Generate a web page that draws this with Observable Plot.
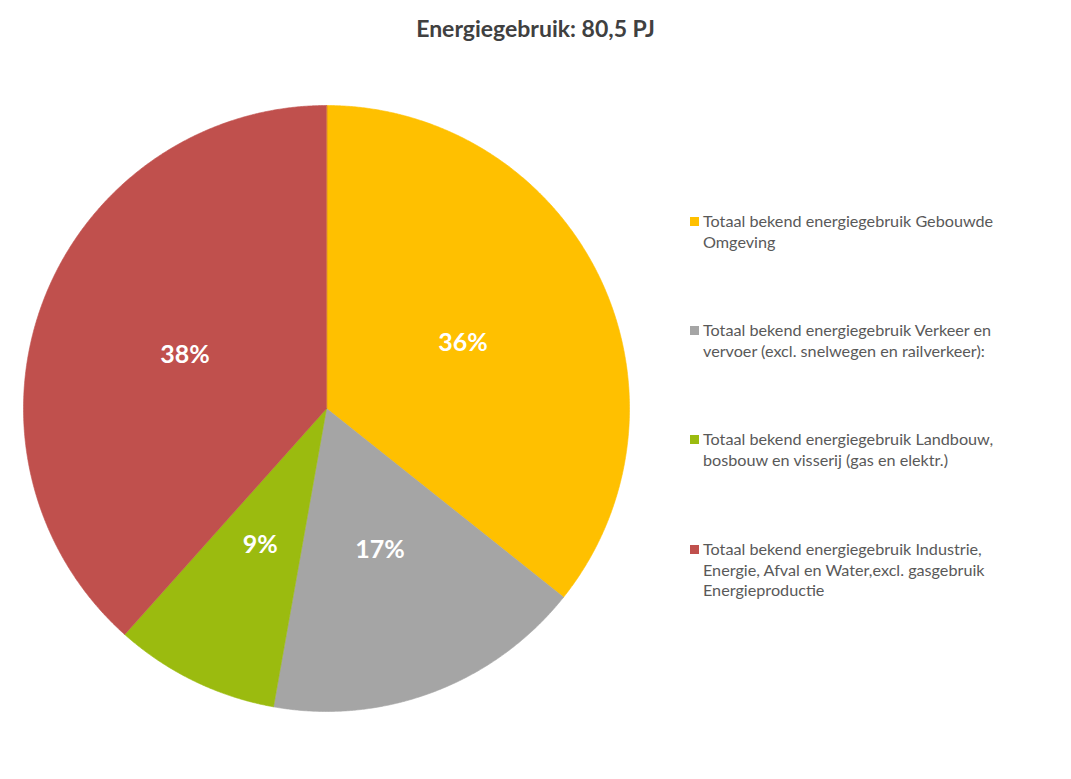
<!DOCTYPE html>
<html>
<head>
<meta charset="utf-8">
<script src="https://cdn.jsdelivr.net/npm/d3@7"></script>
<script src="https://cdn.jsdelivr.net/npm/@observablehq/plot@0.6"></script>
<style>
  html, body { margin: 0; padding: 0; background: #fff; }
  #wrap { position: relative; width: 1071px; height: 779px; font-family: Lato, "Open Sans", sans-serif; }
  #title { position: absolute; left: 0; width: 1071px; top: 13px; text-align: center; font-weight: bold; font-size: 23px; color: #404040; line-height: 30px; }
  #chart { position: absolute; left: 0; top: 0; }
  .item { position: absolute; left: 690px; width: 360px; font-size: 16.2px; line-height: 20.5px; color: #595959; }
  .item .sw { position: absolute; left: 0; top: 6px; width: 9px; height: 9px; }
  .item .tx { margin-left: 13px; }
</style>
</head>
<body>
<div id="wrap">
  <div id="chart"></div>
  <div id="title"></div>
  <div id="legend"></div>
</div>
<script>
const title = "Energiegebruik: 80,5 PJ";
const categories = [
  "Totaal bekend energiegebruik Gebouwde Omgeving",
  "Totaal bekend energiegebruik Verkeer en vervoer (excl. snelwegen en railverkeer):",
  "Totaal bekend energiegebruik Landbouw, bosbouw en visserij (gas en elektr.)",
  "Totaal bekend energiegebruik Industrie, Energie, Afval en Water,excl. gasgebruik Energieproductie"
];
const legendLines = [
  ["Totaal bekend energiegebruik Gebouwde", "Omgeving"],
  ["Totaal bekend energiegebruik Verkeer en", "vervoer (excl. snelwegen en railverkeer):"],
  ["Totaal bekend energiegebruik Landbouw,", "bosbouw en visserij (gas en elektr.)"],
  ["Totaal bekend energiegebruik Industrie,", "Energie, Afval en Water,excl. gasgebruik", "Energieproductie"]
];
const shares = [35.7, 17.1, 8.8, 38.4];
const labels = ["36%", "17%", "9%", "38%"];
const colors = ["#FFC000", "#A5A5A5", "#9BBB0F", "#C0504D"];

const legendTops = [211, 320, 429, 539];

// pie geometry in unit-circle coordinates
const pie = d3.pie().sort(null).startAngle(0).endAngle(2 * Math.PI)(shares);
const pt = (a, r) => [r * Math.sin(a), r * Math.cos(a)];
const slices = pie.map((p, i) => {
  const n = Math.max(2, Math.ceil((p.endAngle - p.startAngle) / 0.005));
  const ring = [[0, 0]];
  for (let k = 0; k <= n; k++) ring.push(pt(p.startAngle + (p.endAngle - p.startAngle) * k / n, 1));
  ring.push([0, 0]);
  return {type: "Feature", properties: {name: categories[i]}, geometry: {type: "Polygon", coordinates: [ring]}};
});
const circle = {type: "Polygon", coordinates: [d3.range(0, 361).map(d => pt(d * Math.PI / 180, 1))]};
const labelData = pie.map((p, i) => {
  const [x, y] = pt((p.startAngle + p.endAngle) / 2, 0.5);
  return {x, y, label: labels[i]};
});

const chart = Plot.plot({
  width: 1071,
  height: 779,
  marginLeft: 23,
  marginRight: 442,
  marginTop: 105,
  marginBottom: 68,
  projection: {type: "reflect-y", domain: circle},
  color: {domain: categories, range: colors},
  marks: [
    Plot.geo(slices, {fill: d => d.properties.name, stroke: d => d.properties.name, strokeWidth: 0.6}),
    Plot.text(labelData, {x: "x", y: "y", text: "label", fill: "white", fontSize: 25, fontWeight: "bold", fontFamily: "Lato, 'Open Sans', sans-serif"})
  ]
});
document.getElementById("chart").appendChild(chart);
document.getElementById("title").textContent = title;

const legend = document.getElementById("legend");
categories.forEach((c, i) => {
  const div = document.createElement("div");
  div.className = "item";
  div.style.top = legendTops[i] + "px";
  const sw = document.createElement("div");
  sw.className = "sw";
  sw.style.background = colors[i];
  const tx = document.createElement("div");
  tx.className = "tx";
  tx.innerHTML = legendLines[i].map(s => s.replace(/&/g, "&amp;")).join("<br>");
  div.appendChild(sw); div.appendChild(tx);
  legend.appendChild(div);
});
</script>
</body>
</html>
